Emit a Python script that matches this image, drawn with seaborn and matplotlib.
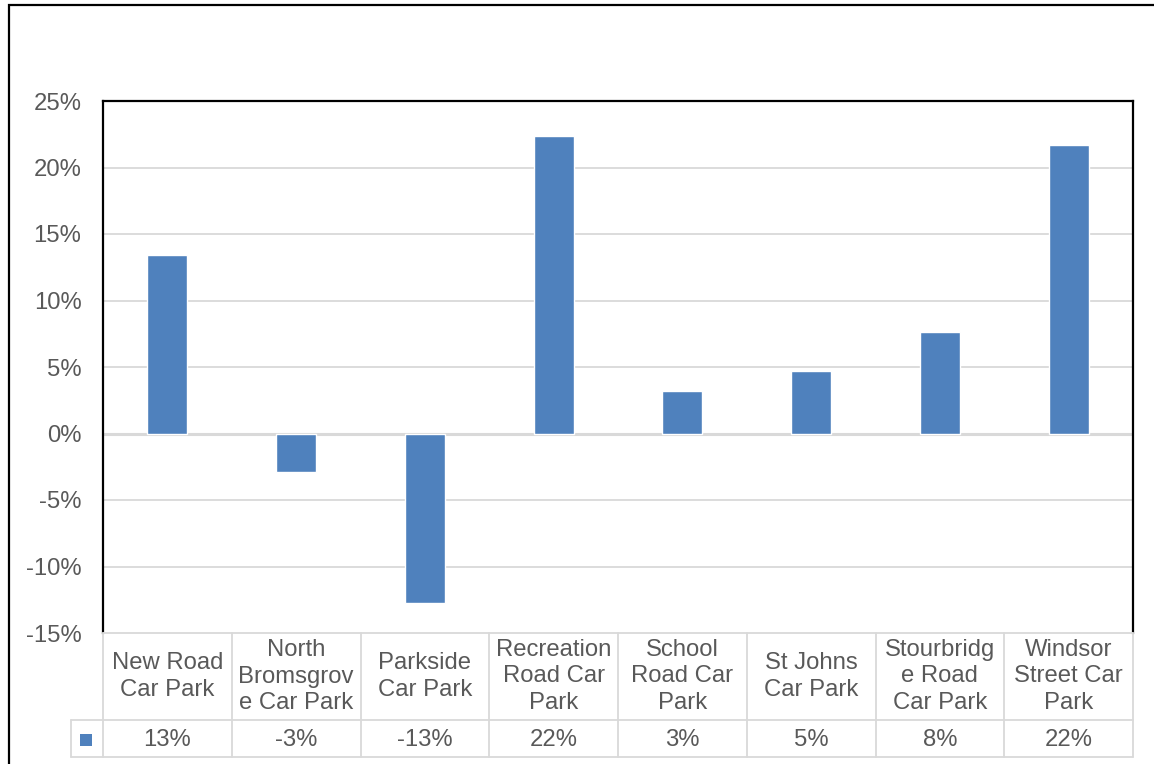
import matplotlib
matplotlib.use("Agg")
import matplotlib.pyplot as plt
import matplotlib.transforms as mtransforms
import matplotlib.patches as mpatches
import pandas as pd
import seaborn as sns

# ── Data ────────────────────────────────────────────────────────────────────
categories = [
    "New Road Car Park", "North Bromsgrove Car Park", "Parkside Car Park",
    "Recreation Road Car Park", "School Road Car Park", "St Johns Car Park",
    "Stourbridge Road Car Park", "Windsor Street Car Park",
]
table_labels = [
    "New Road\nCar Park", "North\nBromsgrov\ne Car Park", "Parkside\nCar Park",
    "Recreation\nRoad Car\nPark", "School\nRoad Car\nPark", "St Johns\nCar Park",
    "Stourbridg\ne Road\nCar Park", "Windsor\nStreet Car\nPark",
]
change = [0.1344, -0.0293, -0.1276, 0.2237, 0.0323, 0.0473, 0.0766, 0.2170]
value_labels = ["13%", "-3%", "-13%", "22%", "3%", "5%", "8%", "22%"]
y_ticks = [-0.15, -0.10, -0.05, 0.0, 0.05, 0.10, 0.15, 0.20, 0.25]

BAR = "#4F81BD"
GRID = "#D9D9D9"
TXT = "#595959"
FS = 17.2

sns.set_theme(style="white")
plt.rcParams["font.family"] = ["Liberation Sans", "DejaVu Sans"]

W, H = 1154, 764
fig = plt.figure(figsize=(W / 100, H / 100), dpi=100)


def fx(px):
    return px / W


def fy(py):
    return 1 - py / H


# outer chart border (runs off the right/bottom edge as in the reference)
fig.add_artist(mpatches.Rectangle((fx(9), fy(800)), fx(1200), fy(5) - fy(800),
                                  transform=fig.transFigure, fill=False,
                                  edgecolor="black", linewidth=1.6))

left, right, top, bottom = 103, 1133, 101, 633
ax = fig.add_axes([fx(left), fy(bottom), fx(right - left), fy(top) - fy(bottom)])

df = pd.DataFrame({"site": categories, "change": change})
sns.barplot(data=df, x="site", y="change", color=BAR, width=0.31,
            saturation=1, ax=ax, zorder=3)

ax.set_ylim(-0.15, 0.25)
ax.set_xlim(-0.5, len(categories) - 0.5)
ax.set_yticks(y_ticks)
ax.set_yticklabels([f"{t * 100:.0f}%" for t in y_ticks], fontsize=FS, color=TXT)
ax.tick_params(axis="y", length=0, pad=15.5)
ax.set_xticks([])
ax.set_xlabel("")
ax.set_ylabel("")
for t in y_ticks[1:-1]:
    ax.axhline(t, color=GRID, linewidth=1.3, zorder=1)
ax.axhline(0, color=GRID, linewidth=2.2, zorder=2)
for s in ax.spines.values():
    s.set_color("black")
    s.set_linewidth(1.6)
ax.spines["bottom"].set_visible(False)

# ── Data table below the plot ───────────────────────────────────────────────
trans = mtransforms.blended_transform_factory(ax.transData, fig.transFigure)
row1_top, row1_bot, row2_bot = 633, 720, 757
n = len(categories)
lw = 1.3

# horizontal lines
fig.add_artist(plt.Line2D([-0.5, n - 0.5], [fy(row1_top)] * 2, transform=trans,
                          color=GRID, linewidth=lw))
fig.add_artist(plt.Line2D([fx(71), fx(right)], [fy(row1_bot)] * 2,
                          transform=fig.transFigure, color=GRID, linewidth=lw))
fig.add_artist(plt.Line2D([fx(71), fx(right)], [fy(row2_bot)] * 2,
                          transform=fig.transFigure, color=GRID, linewidth=lw))
fig.add_artist(plt.Line2D([fx(71), fx(71)], [fy(row1_bot), fy(row2_bot)],
                          transform=fig.transFigure, color=GRID, linewidth=lw))
# vertical lines between categories
for i in range(n + 1):
    fig.add_artist(plt.Line2D([i - 0.5, i - 0.5], [fy(row1_top), fy(row2_bot)],
                              transform=trans, color=GRID, linewidth=lw))

for i, (lab, val) in enumerate(zip(table_labels, value_labels)):
    fig.text(i, fy((row1_top + row1_bot) / 2), lab, transform=trans,
             ha="center", va="center", fontsize=FS, color=TXT, linespacing=1.26)
    fig.text(i, fy((row1_bot + row2_bot) / 2 + 1), val, transform=trans,
             ha="center", va="center", fontsize=FS, color=TXT)

# legend key
fig.add_artist(mpatches.Rectangle((fx(80), fy(746)), fx(12), fy(734) - fy(746),
                                  transform=fig.transFigure, facecolor=BAR,
                                  edgecolor="none"))

fig.savefig("out.png", dpi=100, facecolor="white")
